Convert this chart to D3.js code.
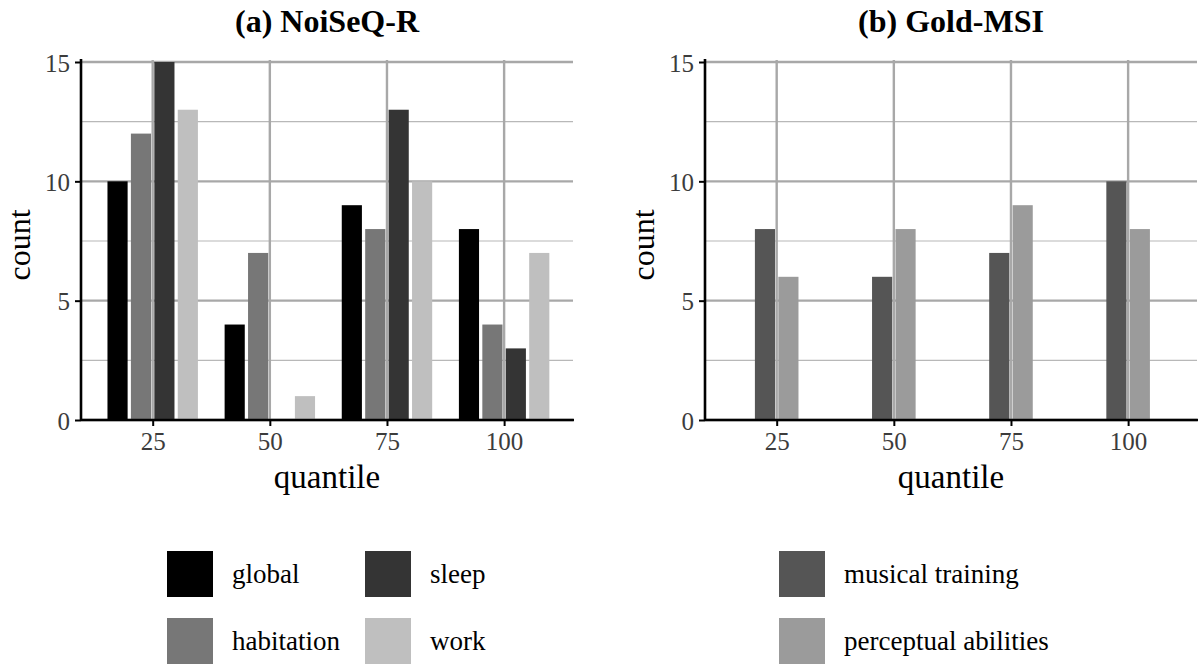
<!DOCTYPE html>
<html>
<head>
<meta charset="utf-8">
<script src="https://cdn.jsdelivr.net/npm/d3@7"></script>
<style>
  body { margin: 0; background: #fff; }
  svg text { font-family: "Liberation Serif", "DejaVu Serif", serif; }
</style>
</head>
<body>
<div id="chart"></div>
<script>
// data
var quantiles = [25, 50, 75, 100];
var yTicks = [0, 5, 10, 15];
var yMinor = [2.5, 7.5, 12.5];

var noiseSeries = ["global", "habitation", "sleep", "work"];
var noiseColors = ["#000000", "#777777", "#343434", "#bfbfbf"];
var noiseGlobal = [10, 4, 9, 8];
var noiseHabitation = [12, 7, 8, 4];
var noiseSleep = [15, 0, 13, 3];
var noiseWork = [13, 1, 10, 7];

var goldSeries = ["musical training", "perceptual abilities"];
var goldColors = ["#555555", "#9b9b9b"];
var goldMusical = [8, 6, 7, 10];
var goldPerceptual = [6, 8, 9, 8];

var W = 1200, H = 667;
var svg = d3.select("#chart").append("svg")
    .attr("width", W)
    .attr("height", H);

svg.append("rect").attr("width", W).attr("height", H).attr("fill", "#fff");

function drawPanel(left, title, series, colors, values) {
    var right = left + 492,
        top = 62,
        bottom = 420;

    var x = d3.scaleLinear().domain([9.7, 114.7]).range([left, right]);
    var y = d3.scaleLinear().domain([0, 15]).range([bottom, top]);

    var g = svg.append("g");

    // grid
    g.selectAll(".minor").data(yMinor).enter().append("line")
        .attr("x1", left).attr("x2", right)
        .attr("y1", function(d) { return y(d); })
        .attr("y2", function(d) { return y(d); })
        .attr("stroke", "#b8b8b8").attr("stroke-width", 1.2);
    g.selectAll(".major").data(yTicks).enter().append("line")
        .attr("x1", left).attr("x2", right)
        .attr("y1", function(d) { return y(d); })
        .attr("y2", function(d) { return y(d); })
        .attr("stroke", "#a8a8a8").attr("stroke-width", 2.4);
    g.selectAll(".vmajor").data(quantiles).enter().append("line")
        .attr("x1", function(d) { return x(d); })
        .attr("x2", function(d) { return x(d); })
        .attr("y1", top - 2).attr("y2", bottom)
        .attr("stroke", "#a8a8a8").attr("stroke-width", 2.4);

    // bars, dodged 5 units apart, 4.3 units wide
    var n = series.length;
    var rows = [];
    series.forEach(function(s, i) {
        values[i].forEach(function(v, j) {
            rows.push({series: s, idx: i, q: quantiles[j], value: v});
        });
    });
    var step = 5, bw = 4.3;
    g.selectAll(".bar").data(rows).enter().append("rect")
        .attr("class", "bar")
        .attr("x", function(d) { return x(d.q + (d.idx - (n - 1) / 2) * step - bw / 2); })
        .attr("width", x(bw) - x(0))
        .attr("y", function(d) { return y(d.value); })
        .attr("height", function(d) { return y(0) - y(d.value); })
        .attr("fill", function(d) { return colors[d.idx]; });

    // axes
    var yAxis = d3.axisLeft(y).tickValues(yTicks).tickSize(6).tickPadding(5).tickSizeOuter(0);
    var ya = g.append("g").attr("transform", "translate(" + left + ",0)").call(yAxis);
    var xAxis = d3.axisBottom(x).tickValues(quantiles).tickSize(6).tickPadding(6).tickSizeOuter(0);
    var xa = g.append("g").attr("transform", "translate(0," + bottom + ")").call(xAxis);
    [ya, xa].forEach(function(a) {
        a.attr("font-family", null).attr("font-size", null);
        a.select(".domain").remove();
        a.selectAll("line").attr("stroke", "#000").attr("stroke-width", 2);
        a.selectAll("text").attr("fill", "#3c3c3c").style("font-size", "25px");
    });
    ya.selectAll("text").attr("dy", "0.36em");
    xa.selectAll("text").attr("dy", "0.72em");

    g.append("line").attr("x1", left).attr("x2", left)
        .attr("y1", top - 3).attr("y2", bottom)
        .attr("stroke", "#000").attr("stroke-width", 2.6);
    g.append("line").attr("x1", left).attr("x2", right + 1)
        .attr("y1", bottom).attr("y2", bottom)
        .attr("stroke", "#000").attr("stroke-width", 2.6);

    // titles
    g.append("text")
        .attr("x", (left + right) / 2).attr("y", 32)
        .attr("text-anchor", "middle")
        .style("font-size", "32px").style("font-weight", "bold")
        .text(title);
    g.append("text")
        .attr("x", (left + right) / 2).attr("y", 488)
        .attr("text-anchor", "middle")
        .style("font-size", "33px")
        .text("quantile");
    g.append("text")
        .attr("transform", "translate(" + (left - 51) + "," + ((top + bottom) / 2 + 4) + ") rotate(-90)")
        .attr("text-anchor", "middle")
        .style("font-size", "32px")
        .text("count");
}

drawPanel(81, "(a) NoiSeQ-R", noiseSeries, noiseColors,
    [noiseGlobal, noiseHabitation, noiseSleep, noiseWork]);
drawPanel(705, "(b) Gold-MSI", goldSeries, goldColors,
    [goldMusical, goldPerceptual]);

// legends
function drawLegend(x0, colGap, series, colors) {
    var key = 46, rowGap = 67;
    var lg = svg.append("g").attr("transform", "translate(" + x0 + ",551)");
    var item = lg.selectAll(".item").data(series).enter().append("g")
        .attr("transform", function(d, i) {
            return "translate(" + (Math.floor(i / 2) * colGap) + "," + ((i % 2) * rowGap) + ")";
        });
    item.append("rect").attr("width", key).attr("height", key)
        .attr("fill", function(d, i) { return colors[i]; });
    item.append("text").attr("x", key + 19).attr("y", 32)
        .style("font-size", "27px")
        .text(function(d) { return d; });
}
drawLegend(167, 198, noiseSeries, noiseColors);
drawLegend(779, 198, goldSeries, goldColors);
</script>
</body>
</html>
